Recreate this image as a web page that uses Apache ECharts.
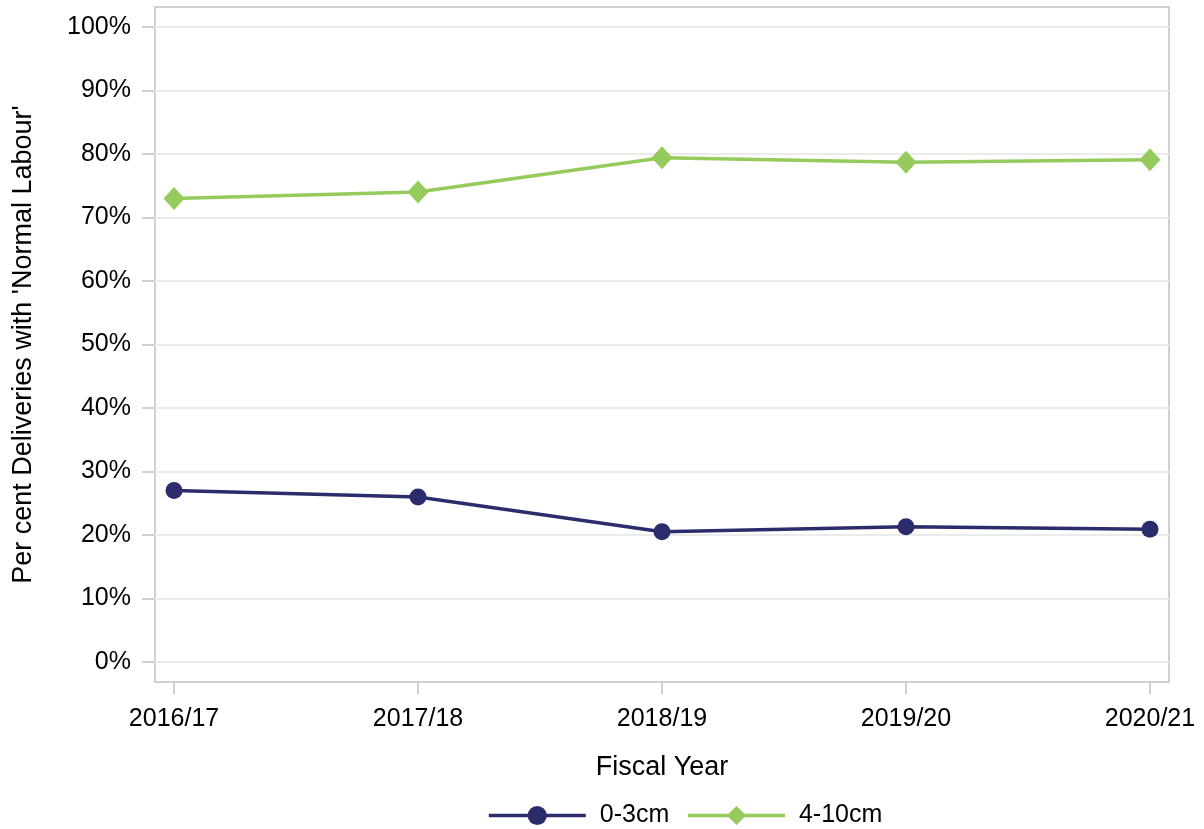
<!DOCTYPE html>
<html>
<head>
<meta charset="utf-8">
<script src="https://cdn.jsdelivr.net/npm/echarts@6/dist/echarts.min.js"></script>
<style>
  html, body { margin: 0; padding: 0; background: #fff; }
  #chart { width: 1204px; height: 829px; }
</style>
</head>
<body>
<div id="chart"></div>
<script>
const years = ['2016/17', '2017/18', '2018/19', '2019/20', '2020/21'];
const small = [27.0, 26.0, 20.5, 21.3, 20.9];   // 0-3cm
const large = [73.0, 74.0, 79.4, 78.7, 79.1];   // 4-10cm
const yTicks = [0, 10, 20, 30, 40, 50, 60, 70, 80, 90, 100];
const xTicks = [0, 1, 2, 3, 4];

const chart = echarts.init(document.getElementById('chart'));
const font = 'Liberation Sans, Arial, sans-serif';

chart.setOption({
    animation: false,
    grid: {
        left: 155, right: 35, top: 7, bottom: 147,
        outerBoundsMode: 'none',
        containLabel: false,
        show: true,
        borderColor: '#d0d0d0',
        borderWidth: 2
    },
    legend: {
        top: 803,
        left: 487,
        padding: 0,
        itemWidth: 97,
        itemHeight: 24,
        itemGap: 17,
        lineStyle: { width: 3.5 },
        textStyle: { fontFamily: font, fontSize: 25, color: '#000', padding: [0, 0, 0, 9] },
        data: ['0-3cm', '4-10cm']
    },
    xAxis: {
        type: 'value',
        min: -0.078,
        max: 4.078,
        name: 'Fiscal Year',
        nameLocation: 'middle',
        nameGap: 72,
        nameMoveOverlap: false,
        nameTextStyle: { fontFamily: font, fontSize: 27, color: '#000' },
        axisLine: { show: true, onZero: false, lineStyle: { color: '#d0d0d0', width: 2 } },
        axisTick: { show: true, customValues: xTicks, length: 12, lineStyle: { color: '#d0d0d0', width: 2 } },
        axisLabel: {
            customValues: xTicks,
            margin: 25,
            fontFamily: font, fontSize: 25, color: '#000',
            formatter: v => years[Math.round(v)]
        },
        splitLine: { show: false }
    },
    yAxis: {
        type: 'value',
        min: -3.15,
        max: 103.15,
        name: "Per cent Deliveries with 'Normal Labour'",
        nameLocation: 'middle',
        nameGap: 118,
        nameMoveOverlap: false,
        nameTextStyle: { fontFamily: font, fontSize: 27, color: '#000' },
        axisLine: { show: false, onZero: false },
        axisTick: { show: true, customValues: yTicks, length: 13, lineStyle: { color: '#d0d0d0', width: 2 } },
        axisLabel: {
            customValues: yTicks,
            margin: 24,
            fontFamily: font, fontSize: 25, color: '#000',
            formatter: v => v + '%'
        },
        splitLine: { show: true, lineStyle: { color: '#ebebeb', width: 2 } }
    },
    series: [
        {
            name: '0-3cm',
            type: 'line',
            data: small.map((v, i) => [i, v]),
            symbol: 'circle',
            symbolSize: 17,
            lineStyle: { color: '#2b2c6b', width: 3.5 },
            itemStyle: { color: '#2b2c6b' }
        },
        {
            name: '4-10cm',
            type: 'line',
            data: large.map((v, i) => [i, v]),
            symbol: 'diamond',
            symbolSize: [21, 23],
            lineStyle: { color: '#95cb5c', width: 3.5 },
            itemStyle: { color: '#95cb5c' }
        }
    ]
});
</script>
</body>
</html>
